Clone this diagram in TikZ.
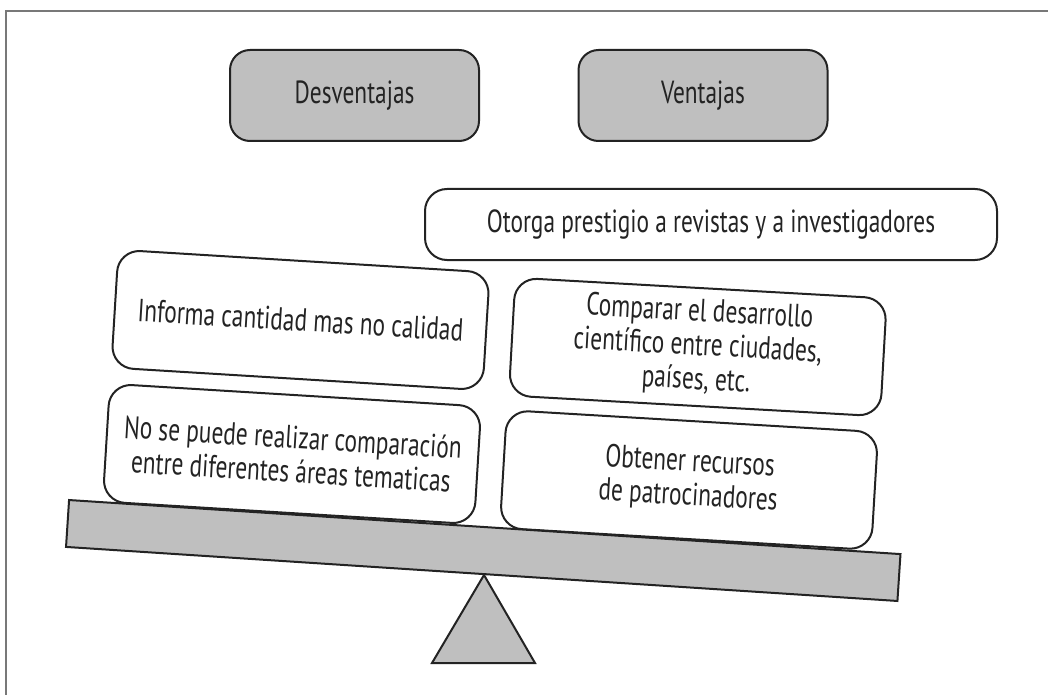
\documentclass[tikz,border=0pt]{standalone}
\usepackage{fontspec}
\setmainfont[FakeStretch=0.73]{PT Sans}
\definecolor{plategray}{RGB}{191,191,191}
\definecolor{framegray}{RGB}{120,120,120}
\definecolor{inkgray}{RGB}{35,35,35}
\begin{document}
\begin{tikzpicture}[x=0.5pt, y=-0.5pt,
    heading/.style ={draw=inkgray, line width=1pt, fill=plategray, rounded corners=10pt,
      minimum width=124.5pt, minimum height=45.5pt, inner sep=0pt, text=inkgray,
      font=\fontsize{16}{17}\selectfont},
    item/.style ={draw=inkgray, line width=1pt, fill=white, rounded corners=11pt,
      minimum width=186pt, minimum height=59pt, inner sep=0pt, align=center, text=inkgray,
      font=\fontsize{16}{17}\selectfont}]
   \useasboundingbox (0,0) rectangle (1048,695);

   % frame
   \draw[framegray, line width=1pt] (6,695) -- (6,11) -- (1048,11);

   \node[heading] (desv) at (354.5,95.5) {Desventajas};
   \node[heading] (vent) at (703,95.5)   {Ventajas};

   \node[item, minimum width=286pt, minimum height=35.5pt] (prestigio) at (711,224.5)
      {Otorga prestigio a revistas y a investigadores};

   \node[item, rotate=-3.5] (cantidad)  at (300.5,320) {Informa cantidad mas no calidad};
   \node[item, rotate=-3.5] (areas)     at (292,454)
      {No se puede realizar comparación\\ entre diferentes áreas tematicas};
   \node[item, rotate=-3.2] (desarrollo) at (697.8,347)
      {Comparar el desarrollo\\ científico entre ciudades,\\ países, etc.};
   \node[item, rotate=-3.4] (recursos)  at (689,480)
      {Obtener recursos\\ de patrocinadores};

   % beam and pivot
   \node[draw=inkgray, line width=1pt, fill=plategray, rotate=-3.72, inner sep=0pt,
      minimum width=416.6pt, minimum height=23.5pt] (beam) at (483.25,550.5) {};
   \draw[inkgray, line width=1pt, fill=plategray, line join=miter]
      (484,575) -- (535,663) -- (432,663) -- cycle;

 \end{tikzpicture}
\end{document}
